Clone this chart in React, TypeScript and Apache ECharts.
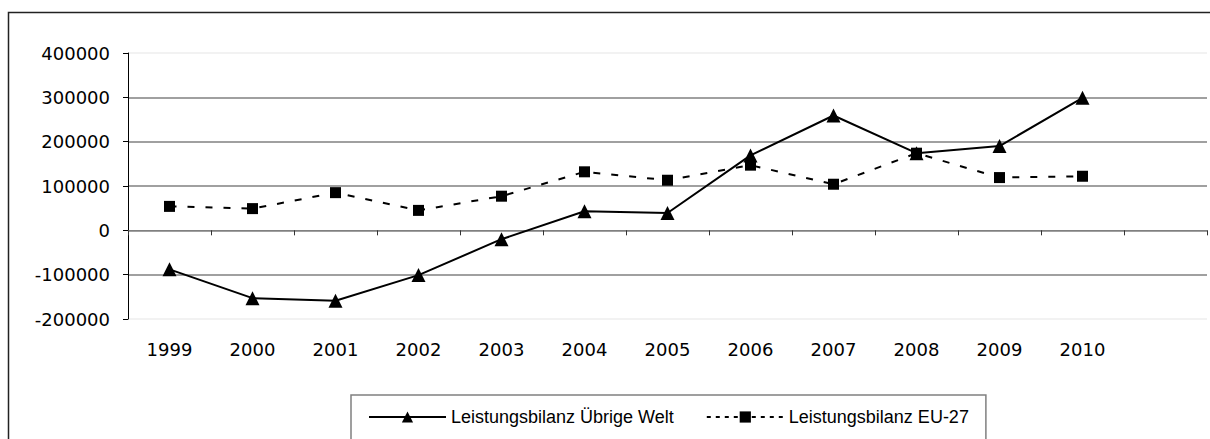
import React, { useEffect, useRef } from "react";
import * as echarts from "echarts";

const years = ["1999", "2000", "2001", "2002", "2003", "2004", "2005", "2006", "2007", "2008", "2009", "2010", ""];
const weltValues = [-88000, -153000, -159000, -101000, -20000, 43000, 39000, 169000, 259000, 174000, 190000, 299000];
const euValues = [54000, 49000, 85000, 45000, 77000, 132000, 113000, 147000, 104000, 174000, 119000, 122000];
const seriesNames = ["Leistungsbilanz Übrige Welt", "Leistungsbilanz EU-27"];
const yMin = -200000;
const yMax = 400000;
const yStep = 100000;

export default function App() {
  const ref = useRef<HTMLDivElement>(null);
  useEffect(() => {
    if (!ref.current) return;
    const chart = echarts.init(ref.current, null, { renderer: "svg" });
    const axisFont = { fontFamily: "DejaVu Sans", fontSize: 18, color: "#000" };
    chart.setOption({
      animation: false,
      backgroundColor: "#fff",
      graphic: [
        {
          type: "rect",
          silent: true,
          z: -1,
          shape: { x: 8.5, y: 12.5, width: 1400, height: 600 },
          style: { fill: "none", stroke: "#222", lineWidth: 1.5 },
        },
      ],
      grid: { left: 128, right: 3, top: 53, bottom: 120, containLabel: false },
      legend: {
        left: 351,
        top: 395,
        orient: "horizontal",
        padding: [13, 17, 14, 17],
        itemWidth: 77,
        itemHeight: 14,
        itemGap: 32,
        borderColor: "#808080",
        borderWidth: 1.5,
        textStyle: { fontFamily: "Liberation Sans", fontSize: 18, color: "#000" },
        data: [
          { name: seriesNames[0] },
          { name: seriesNames[1], lineStyle: { type: [4, 5] } },
        ],
      },
      xAxis: [
        {
          type: "category",
          data: years,
          boundaryGap: true,
          axisLine: { onZero: true, lineStyle: { color: "#808080", width: 1 } },
          axisTick: { show: true, length: 5, lineStyle: { color: "#333" } },
          axisLabel: { show: false },
          splitLine: { show: false },
        },
        {
          type: "category",
          data: years,
          position: "bottom",
          boundaryGap: true,
          axisLine: { show: false, onZero: false },
          axisTick: { show: false },
          axisLabel: { ...axisFont, margin: 21 },
          splitLine: { show: false },
        },
      ],
      yAxis: {
        type: "value",
        min: yMin,
        max: yMax,
        interval: yStep,
        axisLine: { show: true, lineStyle: { color: "#000", width: 1 } },
        axisTick: { show: true, length: 5, inside: false, lineStyle: { color: "#000" } },
        axisLabel: { ...axisFont, margin: 18, formatter: (v: number) => String(v) },
        splitLine: {
          show: true,
          lineStyle: {
            color: ["#eeeeee", "#808080", "#808080", "#808080", "#808080", "#808080", "#eeeeee"],
            width: 1.5,
          },
        },
      },
      series: [
        {
          name: seriesNames[0],
          type: "line",
          xAxisIndex: 0,
          data: weltValues,
          symbol: "triangle",
          symbolSize: 14,
          itemStyle: { color: "#000" },
          lineStyle: { color: "#000", width: 2, type: "solid" },
        },
        {
          name: seriesNames[1],
          type: "line",
          xAxisIndex: 0,
          data: euValues,
          symbol: "rect",
          symbolSize: 11,
          itemStyle: { color: "#000" },
          lineStyle: { color: "#000", width: 2, type: [7, 11] },
        },
      ],
    });
    return () => chart.dispose();
  }, []);
  return (
    <div
      ref={ref}
      style={{ position: "fixed", left: 0, top: 0, width: 1210, height: 439, background: "#fff" }}
    />
  );
}
